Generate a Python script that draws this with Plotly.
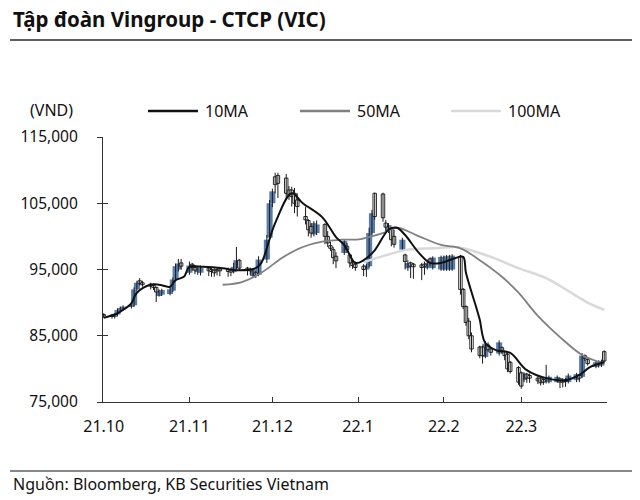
import plotly.graph_objects as go
import pandas as pd

# Trading dates (weekdays, Oct 2021 - Mar 2022)
dates = pd.bdate_range("2021-10-01", "2022-03-31")

# Prices in thousand VND
open_k = [
    88.2, 88.1, 87.9, 88.2, 88.8, 89.0, 89.4, 89.6, 92.0, 93.3, 93.0, 92.8, 92.6, 92.3, 91.0, 91.2, 91.3, 91.8, 93.5, 95.0, 96.0,
    94.5, 95.8, 95.3, 94.6, 94.5, 95.2, 95.0, 94.9, 95.0, 95.1, 95.0, 94.9, 94.6, 95.3, 96.4, 95.2, 95.0, 94.0, 94.5, 94.2, 96.5, 99.8,
    105.0, 109.0, 109.2, 108.8, 107.0, 107.0, 106.5, 105.5, 103.0, 102.4, 101.5, 100.3, 100.5, 101.8, 100.0, 98.6, 98.0, 97.0, 97.5, 98.5, 97.2, 96.0, 95.8,
    95.5, 95.0, 95.5, 100.5, 106.5, 106.4, 102.0, 100.8, 101.2, 100.0, 98.0, 97.2, 95.2, 96.0, 95.8, 95.7, 95.8, 95.2, 96.6, 95.2, 95.0,
    95.0, 95.0, 95.0, 95.0, 97.0, 92.0, 89.4, 87.2, 85.0, 83.3, 83.3, 81.8, 83.6, 83.0, 82.3, 83.2, 82.6, 82.2, 81.0, 80.2,
    79.4, 78.3, 79.2, 79.0, 78.6, 78.6, 78.4, 78.0, 78.0, 78.0, 78.5, 78.3, 78.4, 78.0, 78.3, 79.0, 78.8, 82.0, 81.4, 80.3, 80.4, 80.5, 82.6,
]
high_k = [
    88.4, 88.3, 88.4, 89.1, 89.4, 89.6, 89.8, 92.3, 93.3, 93.7, 93.3, 93.0, 92.9, 92.4, 92.0, 92.1, 92.3, 93.8, 95.9, 96.6, 96.6,
    96.2, 96.0, 95.5, 95.5, 95.6, 95.4, 95.3, 95.2, 95.3, 95.4, 95.3, 95.2, 96.0, 98.4, 96.6, 95.4, 95.3, 95.1, 94.8, 97.0, 100.2, 105.5,
    107.2, 109.6, 109.6, 109.4, 107.6, 107.5, 107.3, 106.5, 104.5, 102.6, 102.0, 102.3, 102.4, 102.0, 100.8, 99.2, 98.4, 97.6, 99.6, 99.0, 97.4, 96.6, 96.2,
    95.8, 95.8, 101.3, 104.0, 106.6, 106.6, 102.5, 102.0, 101.4, 101.0, 99.8, 97.4, 96.4, 96.2, 96.0, 96.0, 96.2, 96.5, 96.8, 97.0, 97.1,
    97.1, 97.2, 97.2, 97.3, 97.2, 92.2, 89.6, 87.7, 85.5, 83.5, 83.5, 84.2, 84.0, 83.3, 84.3, 83.4, 82.8, 82.4, 81.2, 80.4,
    79.6, 79.5, 79.4, 79.3, 78.9, 78.8, 78.6, 80.6, 79.0, 79.0, 78.6, 78.6, 78.6, 79.3, 79.4, 79.2, 82.4, 82.2, 81.6, 81.2, 81.3, 81.4, 82.8,
]
low_k = [
    87.7, 87.6, 87.6, 88.0, 88.6, 88.8, 89.1, 89.4, 91.8, 92.6, 92.4, 92.0, 91.9, 90.1, 90.9, 91.0, 91.1, 91.6, 93.3, 94.7, 95.0,
    94.2, 94.8, 94.3, 94.2, 94.1, 94.0, 93.9, 93.9, 94.1, 94.0, 93.9, 94.0, 94.4, 95.0, 94.8, 94.1, 94.2, 93.8, 93.7, 94.0, 96.0, 99.5,
    104.4, 106.5, 105.8, 105.6, 105.5, 104.5, 103.5, 103.0, 101.8, 100.0, 99.8, 100.0, 100.2, 98.8, 98.4, 97.8, 95.8, 95.2, 97.2, 97.5, 95.3, 95.1, 94.8,
    94.0, 93.9, 95.3, 100.2, 102.5, 102.2, 100.8, 100.5, 98.5, 98.3, 97.8, 95.0, 94.8, 93.7, 93.6, 93.4, 94.2, 95.0, 95.5, 95.0, 94.8,
    94.8, 94.8, 94.8, 94.8, 91.2, 89.0, 86.5, 84.5, 82.5, 81.6, 80.8, 81.6, 82.6, 82.0, 82.0, 82.3, 81.3, 79.5, 79.3, 77.6,
    77.0, 78.0, 77.9, 77.9, 77.7, 77.5, 77.6, 77.8, 77.8, 77.9, 77.1, 77.2, 77.3, 77.8, 78.0, 78.0, 78.6, 81.2, 80.5, 80.1, 80.2, 80.3, 81.0,
]
close_k = [
    88.0, 87.9, 88.2, 88.9, 89.2, 89.4, 89.6, 92.0, 93.0, 92.9, 92.7, 92.5, 92.3, 91.6, 91.8, 91.9, 92.0, 93.5, 95.5, 95.9, 95.5,
    95.6, 95.3, 94.9, 95.2, 95.3, 94.8, 94.7, 94.5, 94.8, 94.8, 94.7, 94.6, 95.4, 96.4, 95.2, 94.9, 94.8, 94.9, 94.1, 96.5, 99.5, 105.0,
    106.8, 107.8, 108.0, 106.5, 106.2, 106.0, 105.0, 104.5, 102.5, 101.0, 100.5, 102.0, 101.8, 100.0, 99.0, 98.2, 96.8, 96.3, 99.3, 98.0, 96.0, 95.6, 95.3,
    95.0, 95.6, 100.5, 103.5, 103.0, 102.8, 101.4, 101.7, 99.5, 98.8, 99.5, 96.2, 96.0, 95.5, 95.4, 95.3, 95.5, 96.0, 96.1, 96.8, 96.9,
    96.9, 97.0, 97.0, 97.1, 92.0, 89.4, 87.0, 85.0, 83.0, 82.0, 82.0, 83.8, 82.9, 82.5, 84.0, 82.8, 82.0, 80.0, 79.6, 78.0,
    77.4, 79.3, 78.6, 78.6, 78.2, 77.9, 78.0, 78.5, 78.8, 78.8, 78.0, 78.0, 78.1, 79.0, 79.2, 78.6, 82.0, 81.6, 80.8, 81.0, 81.0, 81.2, 81.2,
]

# Moving averages (thousand VND)
ma10_dates = ["2021-10-01", "2021-10-06", "2021-10-08", "2021-10-11", "2021-10-13", "2021-10-18", "2021-10-21",
              "2021-10-25", "2021-10-27", "2021-10-30", "2021-11-01", "2021-11-06", "2021-11-13", "2021-11-18",
              "2021-11-25", "2021-11-27", "2021-12-02", "2021-12-08", "2021-12-12", "2021-12-19", "2021-12-24",
              "2021-12-27", "2021-12-31", "2022-01-03", "2022-01-07", "2022-01-12", "2022-01-15", "2022-01-18",
              "2022-01-23", "2022-01-27", "2022-01-31", "2022-02-05", "2022-02-08", "2022-02-09", "2022-02-13",
              "2022-02-14", "2022-02-16", "2022-02-20", "2022-02-25", "2022-03-03", "2022-03-10", "2022-03-17",
              "2022-03-22", "2022-03-26", "2022-03-31"]
ma10_k = [87.7, 88.4, 88.9, 89.9, 91.5, 92.7, 92.7, 92.4, 93.4, 93.9, 95.4, 95.4, 95.2, 94.9, 95.2, 96.0, 102.0,
          106.5, 105.0, 102.9, 99.9, 98.7, 96.0, 96.4, 97.9, 101.0, 101.3, 100.2, 97.5, 96.0, 96.0, 96.7, 96.9,
          94.5, 88.9, 87.4, 83.9, 82.8, 82.4, 79.8, 78.6, 78.3, 79.1, 80.3, 81.0]

ma50_dates = ["2021-11-13", "2021-11-20", "2021-11-27", "2021-12-05", "2021-12-12", "2021-12-19", "2021-12-26",
              "2022-01-02", "2022-01-10", "2022-01-15", "2022-01-22", "2022-01-31", "2022-02-07", "2022-02-14",
              "2022-02-22", "2022-02-28", "2022-03-07", "2022-03-15", "2022-03-23", "2022-03-31"]
ma50_k = [92.7, 93.1, 94.5, 96.9, 98.4, 99.2, 99.5, 99.6, 100.5, 101.3, 100.2, 98.7, 98.2, 96.4, 93.9, 91.5,
          88.0, 84.8, 82.1, 80.8]

ma100_dates = ["2022-01-03", "2022-01-09", "2022-01-19", "2022-01-28", "2022-02-05", "2022-02-08", "2022-02-18",
               "2022-02-28", "2022-03-10", "2022-03-19", "2022-03-25", "2022-03-31"]
ma100_k = [96.1, 96.9, 98.0, 98.2, 98.4, 98.2, 96.9, 95.2, 93.7, 91.5, 90.0, 88.9]

y_ticks = [75000, 85000, 95000, 105000, 115000]
x_tickvals = ["2021-10-01", "2021-11-01", "2021-12-01", "2022-01-01", "2022-02-01", "2022-03-01"]
x_ticktext = ["21.10", "21.11", "21.12", "22.1", "22.2", "22.3"]

legend_names = ["10MA", "50MA", "100MA"]
legend_colors = ["#111111", "#808080", "#d9d9d9"]

K = 1000
DAY_MS = 86400000
BLUE = "#5a7eab"
FONT = "Noto Sans"

fig = go.Figure()

# candle bodies (bars with a base), up = blue, down = white with black outline
up = [i for i in range(len(dates)) if close_k[i] >= open_k[i]]
dn = [i for i in range(len(dates)) if close_k[i] < open_k[i]]
fig.add_trace(go.Bar(
    x=[dates[i] for i in up], base=[open_k[i] * K for i in up],
    y=[(close_k[i] - open_k[i]) * K for i in up], width=DAY_MS * 2.2,
    marker=dict(color=BLUE, line=dict(width=0)), showlegend=False, hoverinfo="skip"))
fig.add_trace(go.Bar(
    x=[dates[i] for i in dn], base=[close_k[i] * K for i in dn],
    y=[(open_k[i] - close_k[i]) * K for i in dn], width=DAY_MS * 1.25,
    marker=dict(color="white", line=dict(width=0.9, color="#111111")), showlegend=False, hoverinfo="skip"))

# high-low wicks
wx, wy = [], []
for d, lo, hi in zip(dates, low_k, high_k):
    wx += [d, d, None]
    wy += [lo * K, hi * K, None]
fig.add_trace(go.Scatter(x=wx, y=wy, mode="lines", line=dict(color="#1a1a1a", width=1),
                         showlegend=False, hoverinfo="skip"))

fig.add_trace(go.Scatter(x=ma100_dates, y=[v * K for v in ma100_k], mode="lines",
                         line=dict(color=legend_colors[2], width=2.5, shape="spline"), name="100MA", showlegend=False))
fig.add_trace(go.Scatter(x=ma50_dates, y=[v * K for v in ma50_k], mode="lines",
                         line=dict(color=legend_colors[1], width=1.8, shape="spline"), name="50MA", showlegend=False))
fig.add_trace(go.Scatter(x=ma10_dates, y=[v * K for v in ma10_k], mode="lines",
                         line=dict(color=legend_colors[0], width=2, shape="spline"), name="10MA", showlegend=False))
# helper trace for the mirrored tick axis
fig.add_trace(go.Scatter(x=[dates[0]], y=[None], yaxis="y2", showlegend=False, hoverinfo="skip"))

L, R, T, B = 103, 607, 137, 402
def px(x):
    return (x - L) / (R - L)
def py(y):
    return (B - y) / (B - T)

shapes = [
    dict(type="line", xref="paper", yref="paper", x0=px(10), x1=px(632), y0=py(40), y1=py(40),
         line=dict(color="#5f5f5f", width=2)),
    dict(type="line", xref="paper", yref="paper", x0=px(10), x1=px(632), y0=py(471), y1=py(471),
         line=dict(color="#5f5f5f", width=1.5)),
]
annotations = [
    dict(text="Tập đoàn Vingroup - CTCP (VIC)", xref="paper", yref="paper", x=px(11), y=py(19),
         xanchor="left", yanchor="middle", showarrow=False, font=dict(family=FONT, size=20.5, color="#111111", weight="bold")),
    dict(text="Nguồn: Bloomberg, KB Securities Vietnam", xref="paper", yref="paper", x=px(11), y=py(484),
         xanchor="left", yanchor="middle", showarrow=False, font=dict(family=FONT, size=16, color="#111111")),
    dict(text="(VND)", xref="paper", yref="paper", x=px(51), y=py(110),
         xanchor="center", yanchor="middle", showarrow=False, font=dict(family=FONT, size=16, color="#111111")),
]
leg_x = [148, 300, 451]
for name, col, lx in zip(legend_names, legend_colors, leg_x):
    shapes.append(dict(type="line", xref="paper", yref="paper", x0=px(lx), x1=px(lx + 50), y0=py(111), y1=py(111),
                       line=dict(color=col, width=2.5)))
    annotations.append(dict(text=name, xref="paper", yref="paper", x=px(lx + 55), y=py(111),
                            xanchor="left", yanchor="middle", showarrow=False,
                            font=dict(family=FONT, size=16, color="#111111")))

axis_line = dict(showline=True, linecolor="#333333", linewidth=1.2)
fig.update_layout(
    width=640, height=500,
    margin=dict(l=L, r=640 - R, t=T, b=500 - B, autoexpand=False),
    paper_bgcolor="white", plot_bgcolor="white",
    font=dict(family=FONT, size=16, color="#111111"),
    showlegend=False,
    barmode="overlay",
    xaxis=dict(type="date", range=["2021-09-30 18:00", "2022-04-01"],
               tickvals=x_tickvals, ticktext=x_ticktext, ticks="inside", ticklen=5, tickcolor="#333333",
               showgrid=False, zeroline=False, ticklabelstandoff=10, **axis_line),
    yaxis=dict(range=[75000, 115000], tickvals=y_ticks, tickformat=",", ticks="outside", ticklen=5,
               tickcolor="#333333", showgrid=False, zeroline=False, ticklabelstandoff=16,
               tickfont=dict(size=15.5), **axis_line),
    yaxis2=dict(range=[75000, 115000], overlaying="y", side="left", tickvals=y_ticks, ticks="inside", ticklen=5,
                tickcolor="#333333", showticklabels=False, showgrid=False, zeroline=False, showline=False),
    shapes=shapes, annotations=annotations,
)
fig.write_html("out.html", config={"displayModeBar": False},
               post_script="document.body.style.margin='0';")
